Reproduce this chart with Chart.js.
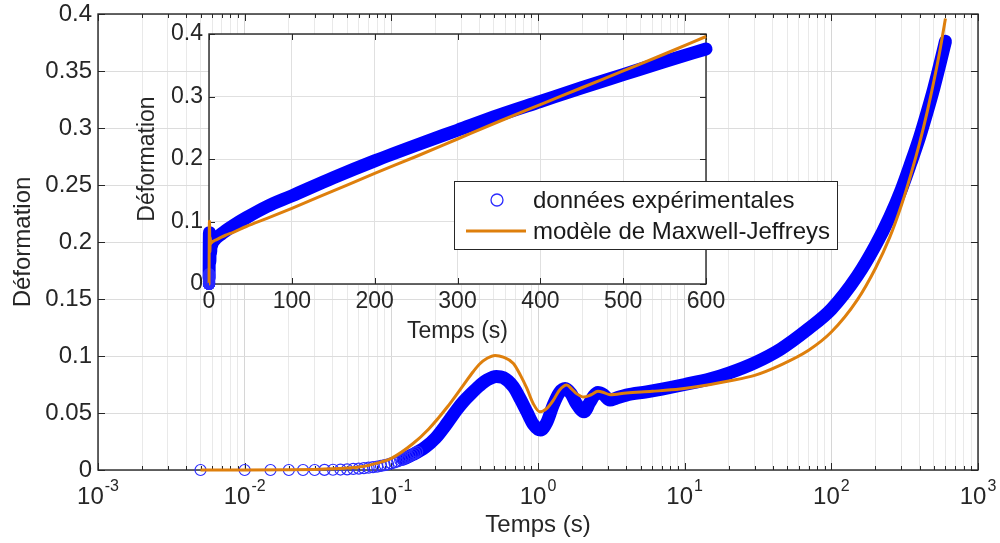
<!DOCTYPE html>
<html lang="fr">
<head>
<meta charset="utf-8">
<title>Fluage - données et modèle</title>
<script src="https://cdn.jsdelivr.net/npm/chart.js@4.4.1/dist/chart.umd.min.js"></script>
<style>
  html, body { margin: 0; padding: 0; background: #fff; }
  #wrap { position: relative; width: 1000px; height: 543px; overflow: hidden; }
  #main  { position: absolute; left: 0; top: 0; }
  #inset { position: absolute; left: 121px; top: 0; }
</style>
</head>
<body>
<div id="wrap">
  <canvas id="main" width="1000" height="543"></canvas>
  <canvas id="inset" width="740" height="350"></canvas>
</div>
<script>
// ── Données ─────────────────────────────────────────────────
// Premiers échantillons (pas de 5 ms), dessinés en cercles isolés
const expSparseTime   = [0.005, 0.01, 0.015, 0.02, 0.025, 0.03, 0.035, 0.04, 0.045, 0.05,
                         0.055, 0.06, 0.065, 0.07, 0.075, 0.08, 0.085, 0.09, 0.095, 0.1,
                         0.105, 0.11, 0.115, 0.12, 0.125, 0.13, 0.135, 0.14, 0.145, 0.15];
const expSparseStrain = [0, 0, 0, 0, 0, 0, 0.0001, 0.0002, 0.0004, 0.0006,
                         0.0009, 0.0012, 0.0016, 0.002, 0.0025, 0.003, 0.0036, 0.0043, 0.005, 0.0058,
                         0.0066, 0.0075, 0.0085, 0.0095, 0.0105, 0.0115, 0.0125, 0.0136, 0.0148, 0.016];

// Suite des mesures : les cercles se recouvrent et forment une bande continue
const expTime   = [0.12, 0.14, 0.17, 0.2, 0.24, 0.28, 0.31, 0.35, 0.4, 0.45,
                   0.52, 0.58, 0.68, 0.76, 0.84, 0.93, 1.04, 1.15, 1.27, 1.4,
                   1.53, 1.68, 1.83, 2.06, 2.25, 2.4, 2.56, 2.8, 3.09, 3.4,
                   4, 5.5, 7, 10, 15, 20, 30, 45, 70, 100,
                   150, 200, 250, 300, 350, 400, 450, 500, 550, 600];
const expStrain = [0.0095, 0.0135, 0.02, 0.028, 0.041, 0.053, 0.06, 0.067, 0.074, 0.079,
                   0.082, 0.081, 0.073, 0.062, 0.051, 0.04, 0.035, 0.042, 0.057, 0.068,
                   0.0715, 0.067, 0.058, 0.051, 0.059, 0.065, 0.068, 0.066, 0.0613, 0.063,
                   0.0657, 0.0686, 0.071, 0.075, 0.08, 0.085, 0.094, 0.106, 0.124, 0.141,
                   0.17, 0.197, 0.222, 0.246, 0.27, 0.292, 0.314, 0.335, 0.356, 0.376];

// Modèle de Maxwell-Jeffreys
const modelTime   = [0.005, 0.01, 0.02, 0.03, 0.04, 0.05, 0.064, 0.08, 0.1, 0.14,
                     0.18, 0.24, 0.31, 0.36, 0.4, 0.45, 0.51, 0.58, 0.68, 0.76,
                     0.84, 0.93, 1.03, 1.15, 1.27, 1.4, 1.57, 1.7, 1.83, 2.05,
                     2.3, 2.56, 2.8, 3.1, 4, 6, 9.3, 15, 20, 30,
                     45, 70, 100, 150, 200, 250, 300, 350, 400, 450,
                     500, 550, 600];
const modelStrain = [0, 0, 0.0002, 0.0005, 0.001, 0.0017, 0.003, 0.006, 0.0102, 0.023,
                     0.036, 0.055, 0.0745, 0.086, 0.093, 0.098, 0.1005, 0.099, 0.0935, 0.083,
                     0.0715, 0.058, 0.051, 0.054, 0.061, 0.07, 0.0745, 0.071, 0.067, 0.064,
                     0.066, 0.069, 0.068, 0.066, 0.0675, 0.069, 0.071, 0.075, 0.078, 0.083,
                     0.092, 0.105, 0.121, 0.149, 0.177, 0.204, 0.232, 0.26, 0.287, 0.314,
                     0.341, 0.368, 0.396];

// Graduations
const mainXDecades = [1e-3, 1e-2, 1e-1, 1, 10, 100, 1000];
const mainYTicks   = [0, 0.05, 0.1, 0.15, 0.2, 0.25, 0.3, 0.35, 0.4];
const insetXTicks  = [0, 100, 200, 300, 400, 500, 600];
const insetYTicks  = [0, 0.1, 0.2, 0.3, 0.4];

const LABEL_EXP   = 'données expérimentales';
const LABEL_MODEL = 'modèle de Maxwell-Jeffreys';
const LABEL_X     = 'Temps (s)';
const LABEL_Y     = 'Déformation';

// ── Styles ──────────────────────────────────────────────────
const BLUE    = '#0000ff';
const BLUE_PT = '#2b2bff';
const ORANGE  = '#de7f0c';
const TXT     = '#262626';
const FONT    = "'Liberation Sans', Arial, Helvetica, sans-serif";

Chart.defaults.font.family = FONT;
Chart.defaults.color = TXT;

const pts = (xs, ys) => xs.map((x, i) => ({ x, y: ys[i] }));

function isDecade(v) {
  const e = Math.log10(v);
  return Math.abs(e - Math.round(e)) < 1e-9;
}

// ticks log : 1..9 × chaque décade
const mainXTicks = [];
mainXDecades.forEach((d, i) => {
  if (i === mainXDecades.length - 1) { mainXTicks.push(d); return; }
  for (let m = 1; m <= 9; m++) mainXTicks.push(+(m * d).toPrecision(3));
});

// Cadre + graduations intérieures (style MATLAB)
const frameAndTicks = {
  id: 'frameAndTicks',
  beforeDraw(chart, args, opts) {
    if (!opts.fill) return;
    const a = chart.chartArea;
    chart.ctx.save();
    chart.ctx.fillStyle = opts.fill;
    chart.ctx.fillRect(a.left, a.top, a.width, a.height);
    chart.ctx.restore();
  },
  beforeDatasetsDraw(chart, args, opts) {
    const { ctx, chartArea: a, scales: { x, y } } = chart;
    ctx.save();
    ctx.strokeStyle = TXT;
    ctx.lineWidth = 1;
    ctx.beginPath();
    x.ticks.forEach(t => {
      const px = Math.round(x.getPixelForValue(t.value)) + 0.5;
      const len = (!opts.logX || isDecade(t.value)) ? opts.major : opts.minor;
      ctx.moveTo(px, a.bottom); ctx.lineTo(px, a.bottom - len);
      ctx.moveTo(px, a.top);    ctx.lineTo(px, a.top + len);
    });
    y.ticks.forEach(t => {
      const py = Math.round(y.getPixelForValue(t.value)) + 0.5;
      ctx.moveTo(a.left, py);  ctx.lineTo(a.left + opts.major, py);
      ctx.moveTo(a.right, py); ctx.lineTo(a.right - opts.major, py);
    });
    ctx.stroke();
    ctx.lineWidth = 1.4;
    ctx.strokeRect(a.left, a.top, a.width, a.height);
    ctx.restore();
  }
};

// Étiquettes 10^n avec exposant surélevé
const powerLabels = {
  id: 'powerLabels',
  afterDraw(chart) {
    const { ctx, chartArea: a, scales: { x } } = chart;
    ctx.save();
    ctx.fillStyle = TXT;
    ctx.textBaseline = 'alphabetic';
    ctx.textAlign = 'left';
    x.ticks.filter(t => isDecade(t.value)).forEach(t => {
      const px = x.getPixelForValue(t.value);
      const base = '10';
      const expo = String(Math.round(Math.log10(t.value)));
      ctx.font = '24px ' + FONT;
      const wb = ctx.measureText(base).width;
      ctx.font = '16px ' + FONT;
      const we = ctx.measureText(expo).width;
      const x0 = px - (wb + 1 + we) / 2;
      ctx.font = '24px ' + FONT;
      ctx.fillText(base, x0, a.bottom + 34);
      ctx.font = '16px ' + FONT;
      ctx.fillText(expo, x0 + wb + 1, a.bottom + 21);
    });
    ctx.restore();
  }
};

// Légende encadrée, posée sur l'encart
const boxLegend = {
  id: 'boxLegend',
  afterDraw(chart, args, opts) {
    const ctx = chart.ctx;
    const b = opts.box;
    ctx.save();
    ctx.fillStyle = '#fff';
    ctx.fillRect(b.x, b.y, b.w, b.h);
    ctx.strokeStyle = TXT;
    ctx.lineWidth = 1;
    ctx.strokeRect(b.x + 0.5, b.y + 0.5, b.w, b.h);

    // ligne 1 : cercle bleu
    ctx.strokeStyle = BLUE_PT;
    ctx.lineWidth = 1.3;
    ctx.beginPath();
    ctx.arc(b.x + 43, b.y + 19, 6, 0, Math.PI * 2);
    ctx.stroke();
    // ligne 2 : trait orange
    ctx.strokeStyle = ORANGE;
    ctx.lineWidth = 3;
    ctx.beginPath();
    ctx.moveTo(b.x + 12, b.y + 50);
    ctx.lineTo(b.x + 72, b.y + 50);
    ctx.stroke();

    ctx.fillStyle = '#1a1a1a';
    ctx.font = '24px ' + FONT;
    ctx.textBaseline = 'alphabetic';
    ctx.fillText(LABEL_EXP,   b.x + 79, b.y + 27);
    ctx.fillText(LABEL_MODEL, b.x + 79, b.y + 58);
    ctx.restore();
  }
};

function makeDatasets(smooth) {
  return [
    { label: LABEL_MODEL, data: pts(modelTime, modelStrain), borderColor: ORANGE, borderWidth: 3,
      pointRadius: 0, cubicInterpolationMode: smooth, order: 0, clip: false },
    { label: LABEL_EXP, data: pts(expSparseTime, expSparseStrain), showLine: false,
      pointRadius: 5.5, pointBorderWidth: 1.2, pointBorderColor: BLUE_PT,
      pointBackgroundColor: 'rgba(0,0,0,0)', order: 1, clip: false },
    { label: LABEL_EXP, data: pts(expTime, expStrain), borderColor: BLUE, borderWidth: 13,
      borderCapStyle: 'round', borderJoinStyle: 'round', pointRadius: 0,
      cubicInterpolationMode: smooth, order: 2, clip: false }
  ];
}

// ── Graphique principal (échelle log) ───────────────────────
new Chart(document.getElementById('main'), {
  type: 'line',
  data: { datasets: makeDatasets('monotone') },
  options: {
    responsive: false,
    animation: false,
    devicePixelRatio: 1,
    layout: { padding: { left: 0, right: 22, top: 14, bottom: 0 } },
    plugins: {
      legend: { display: false },
      tooltip: { enabled: false },
      frameAndTicks: { logX: true, major: 7, minor: 4 }
    },
    scales: {
      x: {
        type: 'logarithmic',
        min: 1e-3, max: 1e3,
        afterBuildTicks: s => { s.ticks = mainXTicks.map(v => ({ value: v })); },
        afterFit: s => { s.height = 73; s.paddingLeft = 0; s.paddingRight = 0; },
        ticks: { display: false, autoSkip: false },
        grid: {
          drawTicks: false,
          color: c => (c.tick && isDecade(c.tick.value)) ? '#d6d6d6' : '#e9e9e9'
        },
        border: { display: false },
        title: { display: true, text: LABEL_X, color: TXT, font: { size: 24 },
                 padding: { top: 0, bottom: 3 } }
      },
      y: {
        min: 0, max: 0.4,
        afterBuildTicks: s => { s.ticks = mainYTicks.map(v => ({ value: v })); },
        afterFit: s => { s.width = 98; s.paddingTop = 0; s.paddingBottom = 0; },
        ticks: { padding: 6, color: TXT, font: { size: 24 }, callback: v => String(v) },
        grid: { drawTicks: false, color: '#dcdcdc' },
        border: { display: false },
        title: { display: true, text: LABEL_Y, color: TXT, font: { size: 24 },
                 padding: { top: 9, bottom: 0 } }
      }
    }
  },
  plugins: [frameAndTicks, powerLabels]
});

// ── Encart (échelle linéaire) ───────────────────────────────
new Chart(document.getElementById('inset'), {
  type: 'line',
  data: { datasets: makeDatasets('monotone') },
  options: {
    responsive: false,
    animation: false,
    devicePixelRatio: 1,
    layout: { padding: { left: 0, right: 155, top: 34, bottom: 0 } },
    plugins: {
      legend: { display: false },
      tooltip: { enabled: false },
      frameAndTicks: { fill: '#ffffff', logX: false, major: 6, minor: 6 },
      boxLegend: { box: { x: 333, y: 181, w: 383, h: 68 } }
    },
    scales: {
      x: {
        type: 'linear',
        min: 0, max: 600,
        afterBuildTicks: s => { s.ticks = insetXTicks.map(v => ({ value: v })); },
        afterFit: s => { s.height = 66; },
        ticks: { autoSkip: false, maxRotation: 0, padding: 4, color: TXT, font: { size: 23 } },
        grid: { drawTicks: false, color: '#e0e0e0' },
        border: { display: false },
        title: { display: true, text: LABEL_X, color: TXT, font: { size: 23 },
                 padding: { top: 0, bottom: 5 } }
      },
      y: {
        min: 0, max: 0.4,
        afterBuildTicks: s => { s.ticks = insetYTicks.map(v => ({ value: v })); },
        afterFit: s => { s.width = 88; },
        ticks: { padding: 6, color: TXT, font: { size: 23 }, callback: v => String(v) },
        grid: { drawTicks: false, color: '#e0e0e0' },
        border: { display: false },
        title: { display: true, text: LABEL_Y, color: TXT, font: { size: 23 },
                 padding: { top: 13, bottom: 0 } }
      }
    }
  },
  plugins: [frameAndTicks, boxLegend]
});
</script>
</body>
</html>
